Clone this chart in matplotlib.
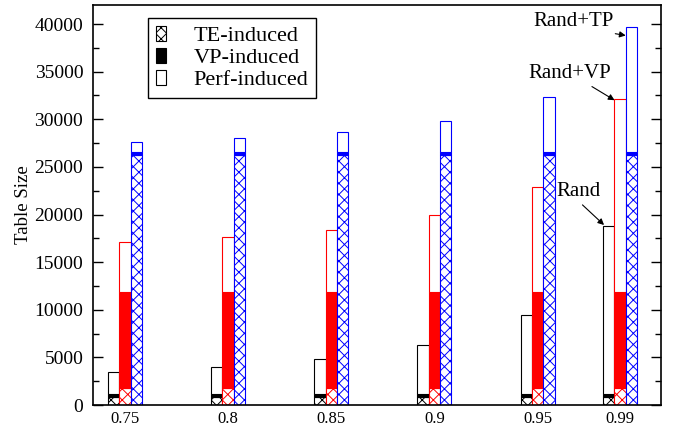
import matplotlib
matplotlib.use('Agg')
import matplotlib.pyplot as plt
from matplotlib.patches import Patch
from matplotlib.ticker import MultipleLocator

# Data
conf = [0.75, 0.8, 0.85, 0.9, 0.95, 0.99]
conf_labels = ['0.75', '0.8', '0.85', '0.9', '0.95', '0.99']

# Rand
rand_te = [850, 850, 850, 850, 850, 850]
rand_vp = [350, 350, 350, 350, 350, 350]
rand_total = [3500, 4000, 4850, 6300, 9400, 18750]
# Rand+VP
vp_te = [1800, 1800, 1800, 1800, 1800, 1800]
vp_vp = [10100, 10100, 10100, 10100, 10100, 10100]
vp_total = [17100, 17600, 18400, 19900, 22900, 32100]
# Rand+TP
tp_te = [26300, 26300, 26300, 26300, 26300, 26300]
tp_vp = [250, 250, 250, 250, 250, 250]
tp_total = [27600, 28000, 28700, 29800, 32300, 39700]

plt.rcParams['font.family'] = ['Liberation Serif', 'DejaVu Serif']
plt.rcParams['hatch.linewidth'] = 0.7

fig = plt.figure(figsize=(6.9, 4.28), dpi=100)
ax = fig.add_axes([93/690, 23/428, 568/690, 400/428])

w = 0.0055
series = [
    (-w, rand_te, rand_vp, rand_total, 'black'),
    (0.0, vp_te, vp_vp, vp_total, 'red'),
    (w, tp_te, tp_vp, tp_total, 'blue'),
]
for off, te, vp, tot, col in series:
    x = [c + off for c in conf]
    perf = [t - a - b for t, a, b in zip(tot, te, vp)]
    bot2 = [a + b for a, b in zip(te, vp)]
    ax.bar(x, te, w, color='white', edgecolor=col, hatch='xxx', linewidth=0.8)
    ax.bar(x, vp, w, bottom=te, color=col, edgecolor=col, linewidth=0.8)
    ax.bar(x, perf, w, bottom=bot2, color='white', edgecolor=col, linewidth=0.8)

ax.set_xlim(0.7345, 1.0098)
ax.set_ylim(0, 42000)
ax.set_xticks(conf)
ax.set_xticklabels(conf_labels)
ax.yaxis.set_major_locator(MultipleLocator(5000))
ax.yaxis.set_minor_locator(MultipleLocator(2500))
ax.tick_params(axis='y', which='both', direction='in', left=True, right=True,
               labelsize=14, pad=7)
ax.tick_params(axis='y', which='major', length=7, width=1)
ax.tick_params(axis='y', which='minor', length=4, width=1)
ax.tick_params(axis='x', length=0, labelsize=12, pad=4)
ax.set_ylabel('Table Size', fontsize=13.5, labelpad=2)
for s in ax.spines.values():
    s.set_linewidth(1.2)

handles = [
    Patch(facecolor='white', edgecolor='black', hatch='xxx', linewidth=0.8),
    Patch(facecolor='black', edgecolor='black', linewidth=0.8),
    Patch(facecolor='white', edgecolor='black', linewidth=0.8),
]
leg = ax.legend(handles, ['TE-induced', 'VP-induced', 'Perf-induced'],
                loc='upper left', bbox_to_anchor=(0.0968, 0.9675), borderaxespad=0,
                fontsize=16, fancybox=False, edgecolor='black', framealpha=1,
                handlelength=0.45, handleheight=0.65, handletextpad=1.25,
                labelspacing=0.08, borderpad=0.35)
leg.get_frame().set_linewidth(1.0)

arrow = dict(arrowstyle='-|>', color='black', lw=0.8, mutation_scale=9, shrinkA=1, shrinkB=0)
ax.annotate('Rand+TP', xy=(0.9927, 38800), xytext=(0.9674, 40300), fontsize=15,
            ha='center', va='center', arrowprops=dict(arrow, relpos=(0.8, 0)))
ax.annotate('Rand+VP', xy=(0.9873, 32000), xytext=(0.9655, 34800), fontsize=15,
            ha='center', va='center', arrowprops=dict(arrow, relpos=(0.7, 0)))
ax.annotate('Rand', xy=(0.9822, 18900), xytext=(0.9698, 22400), fontsize=15,
            ha='center', va='center', arrowprops=dict(arrow, relpos=(0.5, 0)))

fig.savefig('out.png', dpi=100)
